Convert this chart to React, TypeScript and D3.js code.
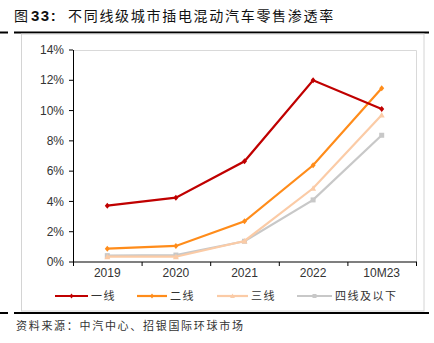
import React from "react";
import * as d3 from "d3";

const categories = ["2019", "2020", "2021", "2022", "10M23"];
const seriesNames = ["一线", "二线", "三线", "四线及以下"];
const tier1 = [3.72, 4.25, 6.65, 12.0, 10.1];
const tier2 = [0.88, 1.06, 2.69, 6.39, 11.47];
const tier3 = [0.35, 0.35, 1.39, 4.87, 9.71];
const tier4 = [0.42, 0.46, 1.37, 4.1, 8.37];
const yTicks = [0, 2, 4, 6, 8, 10, 12, 14];
const colors = ["#C00000", "#FF8C1A", "#FBCBA6", "#C8C8C8"];
const markers = ["diamond", "diamond", "triangle", "square"];

const W = 434;
const H = 343;
const left = 73;
const right = 416;
const top = 50;
const bottom = 262;

export default function App() {
  const x = d3.scaleBand<string>().domain(categories).range([left, right]);
  const y = d3.scaleLinear().domain([0, 14]).range([bottom, top]);
  const data = [tier1, tier2, tier3, tier4];
  const line = d3
    .line<number>()
    .x((_, i) => (x(categories[i]) as number) + x.bandwidth() / 2)
    .y((d) => y(d));

  const marker = (kind: string, cx: number, cy: number, c: string, s = 1) => {
    if (kind === "diamond")
      return <path d={`M${cx},${cy - 3 * s}L${cx + 2.5 * s},${cy}L${cx},${cy + 3 * s}L${cx - 2.5 * s},${cy}Z`} fill={c} />;
    if (kind === "triangle")
      return <path d={`M${cx},${cy - 3 * s}L${cx + 3 * s},${cy + 2.5 * s}L${cx - 3 * s},${cy + 2.5 * s}Z`} fill={c} />;
    return <rect x={cx - 2.5 * s} y={cy - 2.5 * s} width={5 * s} height={5 * s} fill={c} />;
  };

  const legendX = [55, 137, 217, 297];
  const legendLen = [33, 30, 31, 35];
  const legendY = 296;

  return (
    <svg width={W} height={H} style={{ position: "absolute", left: 0, top: 0 }}
      fontFamily="'Liberation Sans', Arial, sans-serif">
      <rect x={0} y={0} width={W} height={H} fill="#fff" />
      <text x={14} y={21} fontSize={14} fill="#111">
        <tspan fontFamily="'Noto Sans CJK SC'">图</tspan>
        <tspan x={31} fontWeight="bold" fontSize={15} letterSpacing={1.5} fontFamily="'Liberation Sans', Arial">33:</tspan>
        <tspan x={68} fontFamily="'Noto Sans CJK SC'" letterSpacing={1.7}>不同线级城市插电混动汽车零售渗透率</tspan>
      </text>
      <line x1={0} x2={8} y1={32.5} y2={32.5} stroke="#000" strokeWidth={2} />
      <line x1={14} x2={429} y1={32.5} y2={32.5} stroke="#000" strokeWidth={2} />
      <rect x={21.5} y={34} width={402.5} height={277} fill="none" stroke="#D4D4D4" strokeWidth={1} />
      {/* plot area border */}
      <path d={`M${left},${top + 0.5}H${right + 0.5}V${bottom}`} fill="none" stroke="#D9D9D9" strokeWidth={1} />
      {/* y axis */}
      <line x1={left + 0.5} x2={left + 0.5} y1={top} y2={bottom} stroke="#000" strokeWidth={1} />
      {yTicks.map((t) => (
        <g key={t}>
          <line x1={left - 4} x2={left} y1={y(t)} y2={y(t)} stroke="#000" />
          <text x={left - 9} y={y(t)} dy="0.35em" textAnchor="end" fontSize={12} fill="#333">
            {t}%
          </text>
        </g>
      ))}
      {/* x axis */}
      <line x1={left} x2={right + 1} y1={bottom} y2={bottom} stroke="#000" strokeWidth={1.2} />
      {categories.map((c, i) => (
        <line key={"t" + i} x1={(x(c) as number) + 0.5} x2={(x(c) as number) + 0.5} y1={bottom} y2={bottom + 4} stroke="#000" />
      ))}
      <line x1={right + 0.5} x2={right + 0.5} y1={bottom} y2={bottom + 4} stroke="#000" />
      {categories.map((c) => (
        <text key={c} x={(x(c) as number) + x.bandwidth() / 2} y={bottom + 15} textAnchor="middle" fontSize={12} fill="#333">
          {c}
        </text>
      ))}
      {[3, 2, 1, 0].map((si) => (
        <g key={si}>
          <path d={line(data[si]) as string} fill="none" stroke={colors[si]} strokeWidth={2.2} />
          {data[si].map((v, i) => (
            <g key={i}>{marker(markers[si], (x(categories[i]) as number) + x.bandwidth() / 2, y(v), colors[si])}</g>
          ))}
        </g>
      ))}
      {seriesNames.map((n, i) => (
        <g key={n}>
          <line x1={legendX[i]} x2={legendX[i] + legendLen[i]} y1={legendY} y2={legendY} stroke={colors[i]} strokeWidth={2.2} />
          {marker(markers[i], legendX[i] + legendLen[i] / 2, legendY, colors[i], 0.8)}
          <text x={legendX[i] + legendLen[i] + 3} y={legendY} dy="0.35em" fontSize={11} fill="#333"
            fontFamily="'Noto Sans CJK SC'" letterSpacing={1.5}>
            {n}
          </text>
        </g>
      ))}
      <line x1={0} x2={8} y1={313} y2={313} stroke="#000" strokeWidth={2} />
      <line x1={14} x2={429} y1={313} y2={313} stroke="#000" strokeWidth={2} />
      <text x={16} y={330} fontSize={11} fill="#333" fontFamily="'Noto Sans CJK SC'" letterSpacing={1.7}>
        资料来源：中汽中心、招银国际环球市场
      </text>
    </svg>
  );
}
